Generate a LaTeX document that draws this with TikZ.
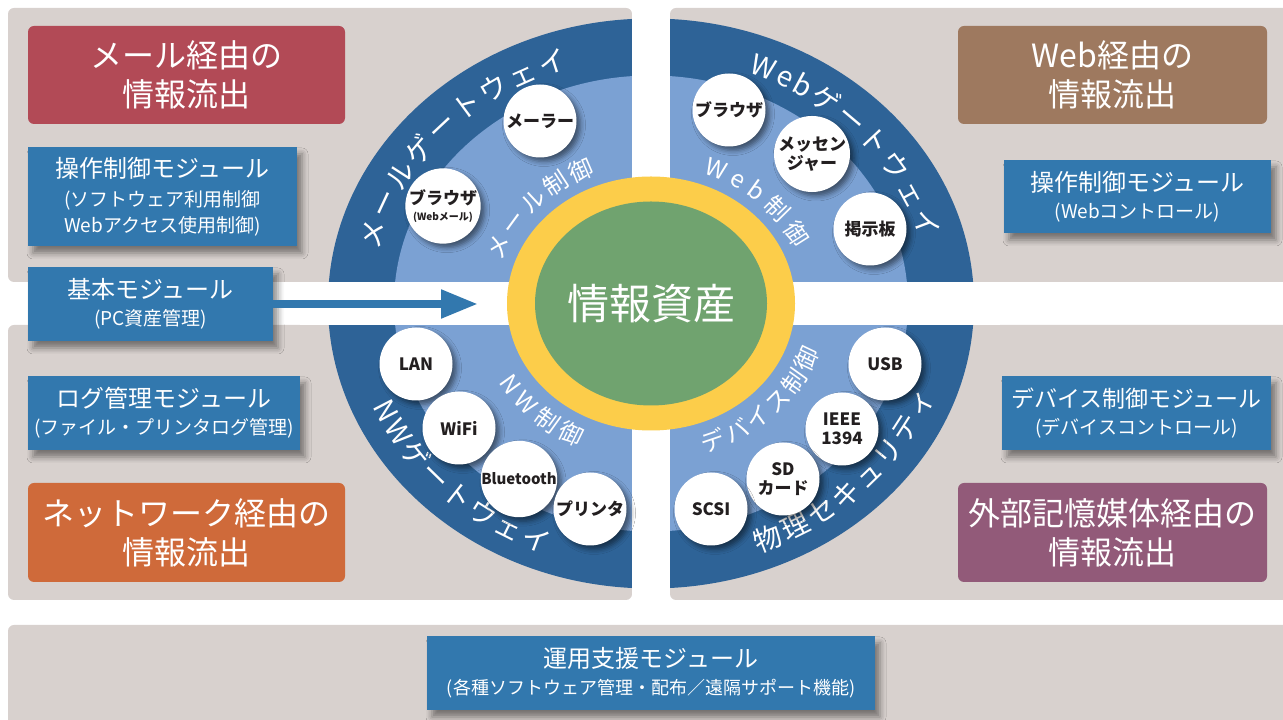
\documentclass[tikz,border=0pt]{standalone}
\usepackage{fontspec}
\setmainfont{Noto Sans CJK JP}
\usepackage{tikz}
\usetikzlibrary{arrows.meta, positioning, decorations.text, shadows.blur}

\definecolor{panelgray}{RGB}{216,209,206}
\definecolor{ringdark}{RGB}{46,99,151}
\definecolor{ringlight}{RGB}{123,161,211}
\definecolor{coreyellow}{RGB}{252,205,74}
\definecolor{coregreen}{RGB}{112,163,111}
\definecolor{modblue}{RGB}{50,120,174}
\definecolor{mailred}{RGB}{178,74,86}
\definecolor{webbrown}{RGB}{158,121,95}
\definecolor{netorange}{RGB}{207,106,58}
\definecolor{mediapurple}{RGB}{146,90,121}
\definecolor{bubbletext}{RGB}{35,31,32}

\newcommand{\gatefont}{\fontsize{28}{28}\selectfont\kern3pt}
\newcommand{\ctrlfont}{\fontsize{24}{24}\selectfont\kern3pt}
\newcommand{\ctrlwide}{\fontsize{24}{24}\selectfont\kern6pt}
\newcommand{\modtitle}[1]{{\fontsize{24}{26}\selectfont #1}}

\begin{document}
\begin{tikzpicture}[x=1pt, y=1pt,
    panel/.style={fill=panelgray, rounded corners=6pt},
    leak/.style={rounded corners=6pt, minimum height=98pt, inner sep=0pt, align=center, text=white, font=\fontsize{32}{39}\selectfont},
    module/.style={fill=modblue, inner sep=0pt, align=center, text=white, font=\fontsize{19}{26}\selectfont,
        blur shadow={shadow xshift=5pt, shadow yshift=-7pt, shadow blur radius=6pt, shadow opacity=45}},
    bubble/.style={circle, fill=white, minimum size=73pt, inner sep=0pt, align=center, text=bubbletext, font=\fontsize{17}{19}\selectfont\bfseries,
        blur shadow={shadow xshift=4pt, shadow yshift=-4pt, shadow blur radius=5pt, shadow opacity=50}},
    ringtext/.style={decorate, decoration={text along path, text align=center, text color=white, text={#1}}}]
    \useasboundingbox (0,0) rectangle (1283,720);

    % background panels
    \fill[panel] (8,438) rectangle (632,712);
    \fill[panel] (670,438) rectangle (1300,712);
    \fill[panel] (8,120) rectangle (632,395);
    \fill[panel] (670,120) rectangle (1300,395);
    \fill[panel] (8,-20) rectangle (1300,95);

    % rings, cut by the white cross
    \coordinate (core) at (651,416.5);
    \fill[ringdark] (core) ellipse[x radius=323pt, y radius=285pt];
    \fill[ringlight] (core) ellipse[x radius=257pt, y radius=228pt];
    \fill[white] (632,110) rectangle (670,715);
    \fill[white] (300,395) rectangle (1000,438);
    \fill[coreyellow] (core) ellipse[x radius=144pt, y radius=127pt];
    \fill[coregreen] (core) ellipse[x radius=116pt, y radius=102pt];
    \node[text=white, font=\fontsize{42}{42}\selectfont] (asset) at (core) {情報資産};

    % gateway labels
    \path[ringtext={|\gatefont|メールゲートウェイ}] (core) ++(174:279pt and 246pt)
        arc[start angle=174, end angle=102, x radius=279pt, y radius=246pt];
    \path[ringtext={|\gatefont|Webゲートウェイ}] (core) ++(80:279pt and 246pt)
        arc[start angle=80, end angle=4, x radius=279pt, y radius=246pt];
    \path[ringtext={|\gatefont|NWゲートウェイ}] (core) ++(186:302pt and 267pt)
        arc[start angle=186, end angle=264, x radius=302pt, y radius=267pt];
    \path[ringtext={|\gatefont|物理セキュリティ}] (core) ++(277:302pt and 267pt)
        arc[start angle=277, end angle=355, x radius=302pt, y radius=267pt];

    % control labels
    \path[ringtext={|\ctrlfont|メール制御}] (core) ++(178:156pt and 138pt)
        arc[start angle=178, end angle=98, x radius=156pt, y radius=138pt];
    \path[ringtext={|\ctrlwide|Web制御}] (core) ++(87:156pt and 138pt)
        arc[start angle=87, end angle=7, x radius=156pt, y radius=138pt];
    \path[ringtext={|\ctrlwide|NW制御}] (core) ++(186:177pt and 157pt)
        arc[start angle=186, end angle=266, x radius=177pt, y radius=157pt];
    \path[ringtext={|\ctrlfont|デバイス制御}] (core) ++(275:177pt and 157pt)
        arc[start angle=275, end angle=355, x radius=177pt, y radius=157pt];

    % channels
    \node[bubble] (mailer) at (540,599) {メーラー};
    \node[bubble] (webmail) at (443,514) {ブラウザ\\[-3pt]{\fontsize{10}{10}\selectfont (Webメール)}};
    \node[bubble] (browser) at (729,610) {ブラウザ};
    \node[bubble] (messenger) at (812,566) {メッセン\\ジャー};
    \node[bubble] (board) at (870,491) {掲示板};
    \node[bubble] (lan) at (416,356) {LAN};
    \node[bubble] (wifi) at (459,292) {WiFi};
    \node[bubble, font=\fontsize{15}{18}\selectfont\bfseries] (bluetooth) at (519,241) {Bluetooth};
    \node[bubble] (printer) at (590,211) {プリンタ};
    \node[bubble] (usb) at (885,356) {USB};
    \node[bubble] (ieee) at (842,291) {IEEE\\1394};
    \node[bubble] (sdcard) at (783,241) {SD\\カード};
    \node[bubble] (scsi) at (711,211) {SCSI};

    % leak routes and modules
    \node[leak, fill=mailred, minimum width=317pt] (mailleak) at (186.5,645) {メール経由の\\情報流出};
    \node[module, minimum width=269pt, minimum height=99pt] (opmail) at (162.5,523.5)
        {\modtitle{操作制御モジュール}\\[3pt](ソフトウェア利用制御\\Webアクセス使用制御)};
    \node[module, minimum width=245pt, minimum height=74pt] (basic) at (150.5,416)
        {\modtitle{基本モジュール}\\[1pt](PC資産管理)};
    \coordinate (basictip) at (478,416);
    \draw[modblue, line width=8pt, -{Triangle[length=37pt, width=27pt]}] (basic.east) -- (basictip);
    \node[module, minimum width=272pt, minimum height=74pt] (logmod) at (164,307)
        {\modtitle{ログ管理モジュール}\\[1pt](ファイル・プリンタログ管理)};
    \node[leak, fill=netorange, minimum width=317pt, minimum height=99pt] (netleak) at (186.5,187.5) {ネットワーク経由の\\情報流出};

    \node[leak, fill=webbrown, minimum width=309pt] (webleak) at (1112.5,645) {Web経由の\\情報流出};
    \node[module, minimum width=267pt, minimum height=73pt] (opweb) at (1137.5,523.5)
        {\modtitle{操作制御モジュール}\\[1pt](Webコントロール)};
    \node[module, minimum width=269pt, minimum height=74pt] (devmod) at (1136.5,307)
        {{\fontsize{23}{26}\selectfont デバイス制御モジュール}\\[1pt](デバイスコントロール)};
    \node[leak, fill=mediapurple, minimum width=309pt, minimum height=99pt] (medialeak) at (1112.5,187.5) {外部記憶媒体経由の\\情報流出};

    \node[module, minimum width=448pt, minimum height=74pt, font=\fontsize{18}{26}\selectfont] (support) at (651,47)
        {\modtitle{運用支援モジュール}\\[1pt](各種ソフトウェア管理・配布／遠隔サポート機能)};
\end{tikzpicture}
\end{document}
